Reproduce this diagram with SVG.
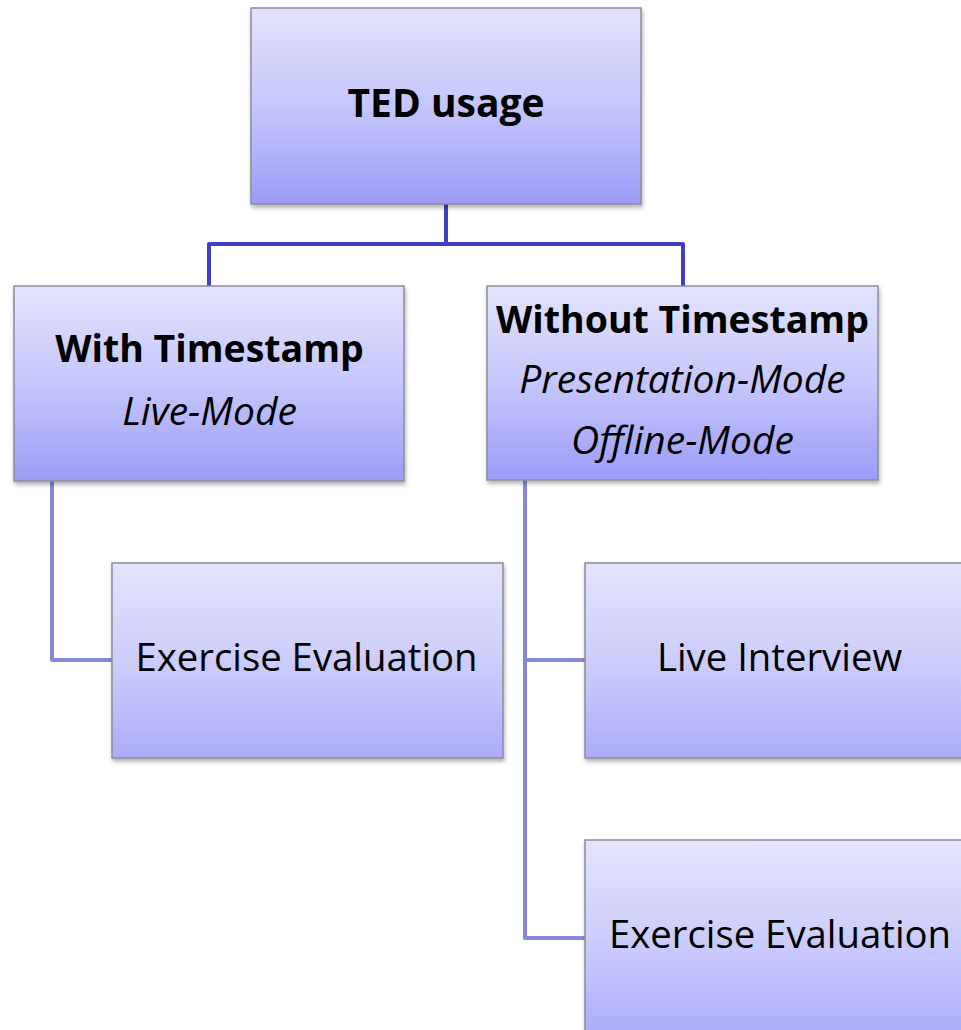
<svg xmlns="http://www.w3.org/2000/svg" width="961" height="1030" viewBox="0 0 961 1030">
<defs>
<linearGradient id="g1" x1="0" y1="0" x2="0" y2="1">
<stop offset="0" stop-color="#e3e3fd"/>
<stop offset="0.5" stop-color="#c6c6fb"/>
<stop offset="1" stop-color="#9c9cf8"/>
</linearGradient>
<linearGradient id="g2" x1="0" y1="0" x2="0" y2="1">
<stop offset="0" stop-color="#e4e4fd"/>
<stop offset="0.5" stop-color="#cdcdfb"/>
<stop offset="1" stop-color="#acacfa"/>
</linearGradient>
<filter id="sh" x="-5%" y="-5%" width="115%" height="120%">
<feDropShadow dx="1" dy="3" stdDeviation="2" flood-color="#000" flood-opacity="0.3"/>
</filter>
</defs>
<style>
.b1{fill:url(#g1);stroke:#8c8c9c;stroke-width:1.5;filter:url(#sh)}
.b2{fill:url(#g2);stroke:#8c8c9c;stroke-width:1.5;filter:url(#sh)}
.t{font-family:"Open Sans","Noto Sans",sans-serif;fill:#000;text-anchor:middle}
.bd{font-weight:bold;font-size:37.5px}
.it{font-style:italic;font-size:39px}
.rg{font-size:38.3px}
.c1{fill:none;stroke:#3f3fc6;stroke-width:4;stroke-linejoin:round}
.c2{fill:none;stroke:#8787dc;stroke-width:4;stroke-linejoin:round}
</style>
<g id="connectors">
<path class="c1" d="M446,204 V244 M209,286 V244 H683 V286"/>
<path class="c2" d="M52,481 V660 H112"/>
<path class="c2" d="M525,480 V938 H585 M525,660 H585"/>
</g>
<g id="node-ted">
<rect class="b1" x="251" y="8" width="390" height="196"/>
<text class="t bd" x="446" y="117" style="font-size:39px">TED usage</text>
</g>
<g id="node-with">
<rect class="b1" x="14" y="286" width="390" height="195"/>
<text class="t bd" x="209.5" y="362">With Timestamp</text>
<text class="t it" x="209.5" y="425">Live-Mode</text>
</g>
<g id="node-without">
<rect class="b1" x="487" y="286" width="391" height="194"/>
<text class="t bd" x="682.5" y="333">Without Timestamp</text>
<text class="t it" x="682.5" y="393">Presentation-Mode</text>
<text class="t it" x="682.5" y="454">Offline-Mode</text>
</g>
<g id="node-ex1">
<rect class="b2" x="112" y="563" width="391" height="195"/>
<text class="t rg" x="306.5" y="671">Exercise Evaluation</text>
</g>
<g id="node-live">
<rect class="b2" x="585" y="563" width="390" height="195"/>
<text class="t rg" x="779.5" y="671">Live Interview</text>
</g>
<g id="node-ex2">
<rect class="b2" x="585" y="840" width="390" height="195"/>
<text class="t rg" x="780" y="948">Exercise Evaluation</text>
</g>
</svg>
